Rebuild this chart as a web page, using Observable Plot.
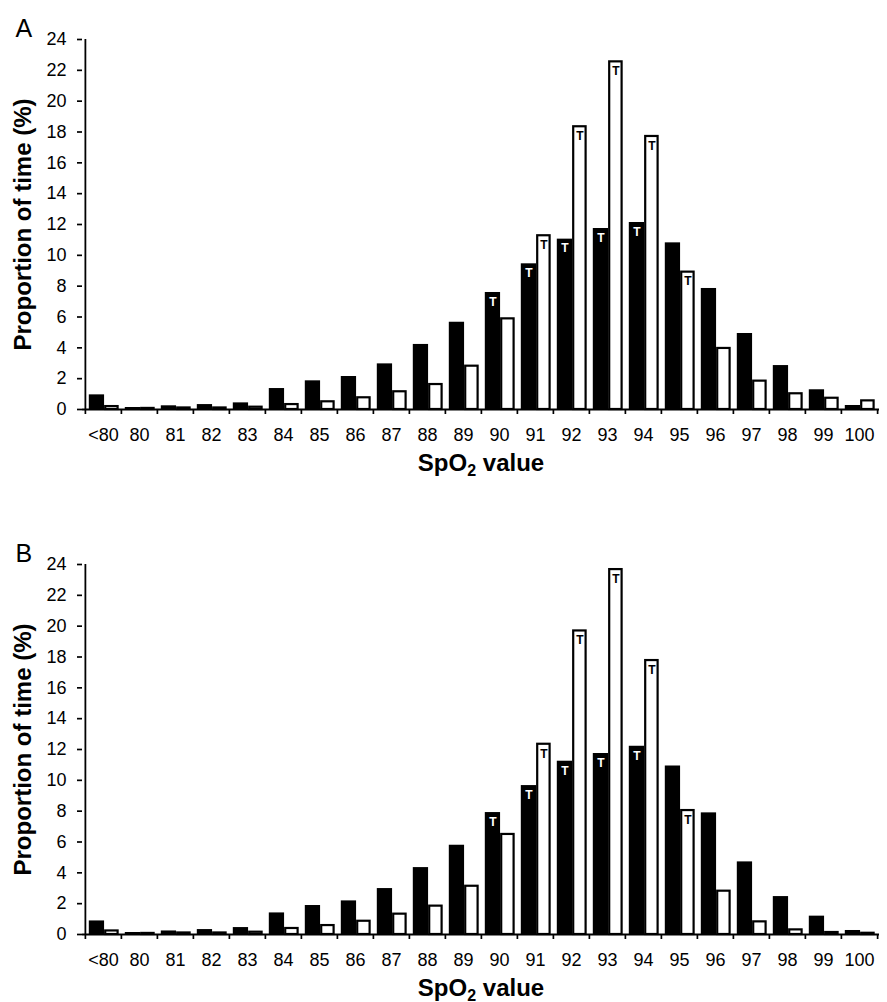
<!DOCTYPE html>
<html>
<head>
<meta charset="utf-8">
<script src="https://cdn.jsdelivr.net/npm/d3@7"></script>
<script src="https://cdn.jsdelivr.net/npm/@observablehq/plot@0.6"></script>
<style>
  html, body { margin: 0; padding: 0; background: #fff; }
  #chart svg { display: block; }
</style>
</head>
<body>
<div id="chart"></div>
<script>
const categories = ["<80","80","81","82","83","84","85","86","87","88","89","90","91","92","93","94","95","96","97","98","99","100"];
const yTicks = [0, 2, 4, 6, 8, 10, 12, 14, 16, 18, 20, 22, 24];

// Panel A
const panelA_dark  = [0.95, 0.13, 0.24, 0.32, 0.43, 1.36, 1.86, 2.14, 2.96, 4.22, 5.66, 7.59, 9.45, 11.05, 11.74, 12.13, 10.81, 7.85, 4.93, 2.85, 1.28, 0.26];
const panelA_light = [0.19, 0.07, 0.10, 0.10, 0.15, 0.32, 0.50, 0.76, 1.15, 1.62, 2.81, 5.88, 11.27, 18.34, 22.55, 17.71, 8.91, 3.96, 1.84, 1.02, 0.73, 0.56];
// Panel B
const panelB_dark  = [0.88, 0.13, 0.23, 0.32, 0.45, 1.40, 1.88, 2.18, 2.98, 4.34, 5.79, 7.91, 9.66, 11.24, 11.74, 12.21, 10.93, 7.89, 4.71, 2.46, 1.19, 0.26];
const panelB_light = [0.23, 0.07, 0.10, 0.10, 0.15, 0.39, 0.58, 0.86, 1.32, 1.84, 3.13, 6.49, 12.34, 19.69, 23.67, 17.77, 8.04, 2.81, 0.82, 0.30, 0.13, 0.08];

// Bars carrying a "T" marker
const markedDark  = ["90","91","92","93","94"];
const markedLight = ["91","92","93","94","95"];

const panelLabels = ["A", "B"];
const xLabel = "SpO2 value";
const yLabel = "Proportion of time (%)";

const W = 887, H = 525, ML = 82, MR = 8, MT = 39, MB = 116;
const bw = (W - ML - MR) / categories.length;
const font = "'Liberation Sans', Arial, Helvetica, sans-serif";

function panel(letter, dark, light) {
  const rowsD = categories.map((c, i) => ({cat: c, v: dark[i]}));
  const rowsL = categories.map((c, i) => ({cat: c, v: light[i]}));
  return Plot.plot({
    width: W, height: H,
    marginTop: MT, marginBottom: MB, marginLeft: ML, marginRight: MR,
    style: {fontFamily: font, background: "#fff", color: "#000", overflow: "visible"},
    x: {type: "band", domain: categories, padding: 0, axis: null},
    y: {domain: [0, 24], axis: null},
    marks: [
      Plot.barY(rowsD, {x: "cat", y: "v", fill: "#000", insetLeft: 3.8, insetRight: bw - 19.3}),
      Plot.barY(rowsL, {x: "cat", y: "v", fill: "#fff", stroke: "#000", strokeWidth: 2.2, insetLeft: 20.2, insetRight: 3.4}),
      Plot.text(rowsD.filter(d => markedDark.includes(d.cat)), {
        x: "cat", y: "v", text: () => "T", dx: (3.8 + 19.3) / 2 - bw / 2, dy: 9.5,
        fill: "#fff", fontWeight: "bold", fontSize: 12
      }),
      Plot.text(rowsL.filter(d => markedLight.includes(d.cat)), {
        x: "cat", y: "v", text: () => "T", dx: (20.2 + 32.8) / 2 - bw / 2, dy: 9.5,
        fill: "#000", fontWeight: "bold", fontSize: 12
      }),
      // axis lines
      Plot.ruleY([0], {stroke: "#000", strokeWidth: 1.8}),
      Plot.ruleX([categories[0]], {y1: 0, y2: 24, dx: -bw / 2, stroke: "#000", strokeWidth: 1.8}),
      // y axis
      Plot.axisY(yTicks, {tickSize: 5, tickPadding: 11, fontSize: 18, label: null, strokeWidth: 1.7}),
      // x boundary ticks
      Plot.axisX(categories, {tickSize: 5, tickFormat: () => "", dx: -bw / 2, label: null, strokeWidth: 1.7}),
      Plot.axisX([categories[categories.length - 1]], {tickSize: 5, tickFormat: () => "", dx: bw / 2, label: null, strokeWidth: 1.7}),
      // x tick labels
      Plot.axisX(categories, {tickSize: 0, tickPadding: 19, fontSize: 18, label: null}),
      // axis titles
      Plot.text([xLabel], {frameAnchor: "bottom", textAnchor: "middle", lineAnchor: "top", dy: 44, fontSize: 24, fontWeight: "bold", fill: "#000"}),
      Plot.text([yLabel], {frameAnchor: "left", textAnchor: "middle", rotate: -90, dx: -59.5, fontSize: 24, fontWeight: "bold", fill: "#000"}),
      // panel letter
      Plot.text([letter], {frameAnchor: "top-left", textAnchor: "start", dx: 15 - ML, dy: -20, fontSize: 25, fill: "#000"})
    ]
  });
}

const chart = document.getElementById("chart");
[[panelLabels[0], panelA_dark, panelA_light], [panelLabels[1], panelB_dark, panelB_light]].forEach(([l, d, li]) => {
  const svg = panel(l, d, li);
  svg.querySelectorAll("text").forEach(t => {
    if (t.textContent === xLabel) {
      t.innerHTML = '<tspan>SpO</tspan><tspan dy="5" font-size="16">2</tspan><tspan dy="-5"> value</tspan>';
    }
  });
  chart.appendChild(svg);
});
</script>
</body>
</html>
